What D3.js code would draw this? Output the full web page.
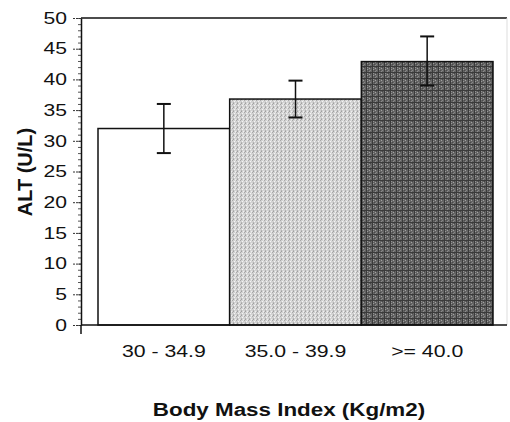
<!DOCTYPE html>
<html>
<head>
<meta charset="utf-8">
<script src="https://cdn.jsdelivr.net/npm/d3@7"></script>
<style>
  body { margin: 0; background: #fff; }
  text { font-family: Arial, "Liberation Sans", sans-serif; fill: #111; }
</style>
</head>
<body>
<script>
// chart data
var categories = ["30 - 34.9", "35.0 - 39.9", ">= 40.0"];
var means = [32.0, 36.8, 42.9];
var errLow = [28.0, 33.8, 39.0];
var errHigh = [36.0, 39.8, 47.0];
var yTicks = [0, 5, 10, 15, 20, 25, 30, 35, 40, 45, 50];
var fills = ["#ffffff", "url(#light)", "url(#dark)"];

var w = 510, h = 422;
var plotLeft = 81, plotRight = 507, plotTop = 18, plotBottom = 325;

var svg = d3.select("body").append("svg")
    .attr("width", w)
    .attr("height", h);

// textures for the bars
var defs = svg.append("defs");
var light = defs.append("pattern").attr("id", "light")
    .attr("patternUnits", "userSpaceOnUse").attr("width", 4).attr("height", 4);
light.append("rect").attr("width", 4).attr("height", 4).attr("fill", "#d2d2d2");
[[0, 0, "#a8a8a8"], [2, 1, "#f4f4f4"], [1, 2, "#b4b4b4"], [3, 3, "#eeeeee"], [3, 0, "#e2e2e2"], [1, 3, "#a0a0a0"]]
    .forEach(function(p) {
        light.append("rect").attr("x", p[0]).attr("y", p[1]).attr("width", 1).attr("height", 1).attr("fill", p[2]);
    });

var dark = defs.append("pattern").attr("id", "dark")
    .attr("patternUnits", "userSpaceOnUse").attr("width", 6).attr("height", 6);
dark.append("rect").attr("width", 6).attr("height", 6).attr("fill", "#646464");
[[1, 1, "#949494"], [3, 2, "#a2a2a2"], [4, 4, "#868686"], [2, 4, "#4a4a4a"], [4, 1, "#444"], [1, 3, "#9a9a9a"], [3, 5, "#8c8c8c"]]
    .forEach(function(p) {
        dark.append("rect").attr("x", p[0]).attr("y", p[1]).attr("width", 1).attr("height", 1).attr("fill", p[2]);
    });
dark.append("rect").attr("x", 0).attr("y", 0).attr("width", 6).attr("height", 1).attr("fill", "#3a3a3a");
dark.append("rect").attr("x", 0).attr("y", 0).attr("width", 1).attr("height", 6).attr("fill", "#3a3a3a");

// scales
var x = d3.scaleBand().domain(categories).range([98, 493]).paddingInner(0).paddingOuter(0);
var y = d3.scaleLinear().domain([0, 50]).range([plotBottom, plotTop]);

// frame
svg.append("line").attr("x1", plotLeft).attr("x2", plotRight).attr("y1", plotTop).attr("y2", plotTop)
    .attr("stroke", "#111").attr("stroke-width", 1.5);
svg.append("line").attr("x1", plotRight).attr("x2", plotRight).attr("y1", plotTop).attr("y2", plotBottom)
    .attr("stroke", "#ddd").attr("stroke-width", 1);

// bars
svg.selectAll("rect.bar")
    .data(means)
    .enter()
    .append("rect")
    .attr("class", "bar")
    .attr("x", function(d, i) { return x(categories[i]); })
    .attr("y", function(d) { return y(d); })
    .attr("width", x.bandwidth())
    .attr("height", function(d) { return y(0) - y(d); })
    .attr("fill", function(d, i) { return fills[i]; })
    .attr("stroke", "#111")
    .attr("stroke-width", 1.5);

// error bars
var err = svg.selectAll("g.err")
    .data(means)
    .enter()
    .append("g")
    .attr("class", "err")
    .attr("stroke", "#111")
    .attr("stroke-width", 1.5);
err.append("line")
    .attr("x1", function(d, i) { return x(categories[i]) + x.bandwidth() / 2; })
    .attr("x2", function(d, i) { return x(categories[i]) + x.bandwidth() / 2; })
    .attr("y1", function(d, i) { return y(errLow[i]); })
    .attr("y2", function(d, i) { return y(errHigh[i]); });
[errLow, errHigh].forEach(function(arr) {
    err.append("line")
        .attr("x1", function(d, i) { return x(categories[i]) + x.bandwidth() / 2 - 7; })
        .attr("x2", function(d, i) { return x(categories[i]) + x.bandwidth() / 2 + 7; })
        .attr("y1", function(d, i) { return y(arr[i]); })
        .attr("y2", function(d, i) { return y(arr[i]); })
        .attr("stroke-width", 2);
});

// y axis, minor ticks first
var yMinor = svg.append("g").attr("transform", "translate(" + plotLeft + ",0)")
    .call(d3.axisLeft(y).ticks(50).tickSize(3).tickFormat(""));
yMinor.select(".domain").remove();
yMinor.selectAll("line").attr("stroke", "#555");

var yAxis = svg.append("g").attr("transform", "translate(" + plotLeft + ",0)")
    .call(d3.axisLeft(y).tickValues(yTicks).tickSize(9).tickSizeOuter(0));
yAxis.select(".domain").attr("stroke", "#111").attr("stroke-width", 1.5);
yAxis.selectAll("line").attr("stroke", "#333").attr("stroke-dasharray", "2,1");
// the scanned lettering is wider than Arial, so stretch it sideways
yAxis.selectAll("text")
    .attr("x", 0)
    .attr("transform", "translate(-14,0) scale(1.28,1)")
    .attr("font-size", 16.5).attr("fill", "#111");

// x axis
var xAxis = svg.append("g").attr("transform", "translate(0," + plotBottom + ")")
    .call(d3.axisBottom(x).tickSize(0).tickPadding(20));
xAxis.select(".domain").attr("d", "M" + plotLeft + ",0H" + plotRight)
    .attr("stroke", "#111").attr("stroke-width", 1.5);
xAxis.selectAll("text")
    .attr("transform", "scale(1.25,1)")
    .attr("font-size", 17).attr("fill", "#111");
svg.append("line").attr("x1", plotLeft).attr("x2", plotLeft).attr("y1", plotBottom).attr("y2", plotBottom + 9)
    .attr("stroke", "#111").attr("stroke-width", 1.5);

// axis titles
svg.append("text")
    .attr("transform", "translate(289,416) scale(1.28,1)")
    .attr("text-anchor", "middle")
    .attr("font-size", 17.5).attr("font-weight", "bold")
    .text("Body Mass Index (Kg/m2)");

svg.append("text")
    .attr("transform", "translate(32,172) rotate(-90)")
    .attr("text-anchor", "middle")
    .attr("font-size", 20).attr("font-weight", "bold")
    .text("ALT (U/L)");
</script>
</body>
</html>
